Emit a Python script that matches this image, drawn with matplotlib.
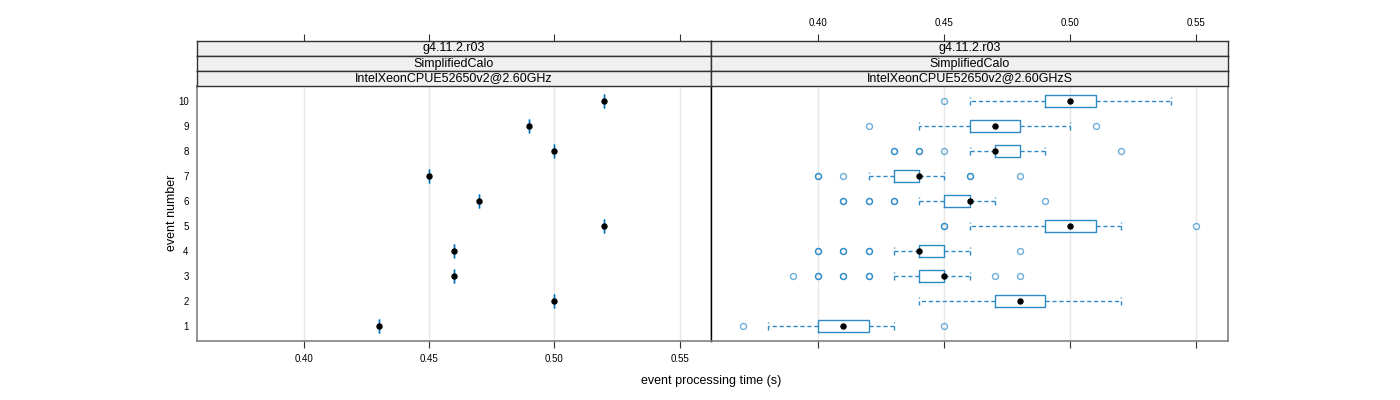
import matplotlib
matplotlib.use("Agg")
import matplotlib.pyplot as plt

plt.rcParams['font.family'] = ['Liberation Sans', 'DejaVu Sans']

# data
events = [1, 2, 3, 4, 5, 6, 7, 8, 9, 10]
x_ticks = [0.40, 0.45, 0.50, 0.55]
x_range = (0.3575, 0.5625)

strip_rows = ["g4.11.2.r03", "SimplifiedCalo"]
left_machine = "IntelXeonCPUE52650v2@2.60GHz"
right_machine = "IntelXeonCPUE52650v2@2.60GHzS"

# left panel: single measurement per event
left_time = [0.43, 0.50, 0.46, 0.46, 0.52, 0.47, 0.45, 0.50, 0.49, 0.52]
left_err = [0.0, 0.0, 0.0, 0.0, 0.0, 0.0, 0.0, 0.0, 0.0, 0.0]

# right panel: box statistics per event
right_med = [0.41, 0.48, 0.45, 0.44, 0.50, 0.46, 0.44, 0.47, 0.47, 0.50]
right_q1 = [0.40, 0.47, 0.44, 0.44, 0.49, 0.45, 0.43, 0.47, 0.46, 0.49]
right_q3 = [0.42, 0.49, 0.45, 0.45, 0.51, 0.46, 0.44, 0.48, 0.48, 0.51]
right_lo = [0.38, 0.44, 0.43, 0.43, 0.46, 0.44, 0.42, 0.46, 0.44, 0.46]
right_hi = [0.43, 0.52, 0.46, 0.46, 0.52, 0.47, 0.45, 0.49, 0.50, 0.54]
right_out = [
    [0.37, 0.45],
    [],
    [0.39, 0.40, 0.40, 0.41, 0.41, 0.42, 0.42, 0.47, 0.48],
    [0.40, 0.40, 0.41, 0.41, 0.42, 0.42, 0.48],
    [0.45, 0.45, 0.55],
    [0.41, 0.41, 0.42, 0.42, 0.43, 0.43, 0.49],
    [0.40, 0.40, 0.41, 0.46, 0.46, 0.48],
    [0.43, 0.43, 0.44, 0.44, 0.45, 0.52],
    [0.42, 0.51],
    [0.45],
]

BLUE = '#2f8ac4'
GRID = '#e8e8e8'
FRAME = '#808080'

W, H = 1400, 400
fig = plt.figure(figsize=(W / 100, H / 100), dpi=100)


def box(x0, y0, x1, y1):
    # pixel box -> figure fraction
    return [x0 / W, 1 - y1 / H, (x1 - x0) / W, (y1 - y0) / H]


panel_top, panel_bot = 86, 341
ax_l = fig.add_axes(box(197, panel_top, 711, panel_bot))
ax_r = fig.add_axes(box(711, panel_top, 1228, panel_bot))

for ax in (ax_l, ax_r):
    ax.set_xlim(*x_range)
    ax.set_ylim(0.4, 10.6)
    ax.set_xticks(x_ticks)
    for t in x_ticks:
        ax.axvline(t, color=GRID, lw=1, zorder=0)
    ax.tick_params(axis='x', direction='out', length=5, width=0.8,
                   labelsize=7, pad=4, color='#333333')
    ax.tick_params(axis='y', length=0, labelsize=7, pad=6)
    for s in ax.spines.values():
        s.set_color(FRAME)
        s.set_linewidth(1.2)

ax_l.set_yticks(events)
ax_l.set_yticklabels([str(e) for e in events])
ax_l.spines['right'].set_color('black')
ax_l.spines['right'].set_linewidth(1)
ax_r.spines['left'].set_color('black')
ax_r.spines['left'].set_linewidth(1)
ax_r.set_yticks([])
ax_r.tick_params(axis='x', labelbottom=False)

# left panel points
ax_l.errorbar(left_time, events, xerr=left_err, fmt='none', ecolor='#0072bd',
              elinewidth=1, capsize=5, capthick=1, zorder=2)
ax_l.scatter(left_time, events, s=13, color='black', zorder=3)

# right panel boxes
stats = []
for i in range(len(events)):
    stats.append(dict(med=right_med[i], q1=right_q1[i], q3=right_q3[i],
                      whislo=right_lo[i], whishi=right_hi[i],
                      fliers=right_out[i]))
ax_r.bxp(stats, positions=events, vert=False, widths=0.5, capwidths=0.35,
         showfliers=True, manage_ticks=False,
         boxprops=dict(color=BLUE, lw=1),
         whiskerprops=dict(color=BLUE, lw=1, linestyle=(0, (3, 2))),
         capprops=dict(color=BLUE, lw=1, linestyle=(0, (3, 2))),
         medianprops=dict(lw=0),
         flierprops=dict(marker='o', markerfacecolor='none',
                         markeredgecolor='#0a78c0', markersize=4.3,
                         markeredgewidth=1, alpha=0.6))
ax_r.scatter(right_med, events, s=13, color='black', zorder=3)

# strips
strip_h = 15
for px0, px1, machine, show_labels in ((197, 711, left_machine, False),
                                        (711, 1228, right_machine, True)):
    labels = strip_rows + [machine]
    for k, lab in enumerate(labels):
        y0 = 41 + k * strip_h
        sax = fig.add_axes(box(px0, y0, px1, y0 + strip_h))
        sax.set_facecolor('#f0f0f0')
        sax.set_xlim(*x_range)
        sax.set_ylim(0, 1)
        sax.set_yticks([])
        sax.text(0.5, 0.5, lab, transform=sax.transAxes, ha='center',
                 va='center', fontsize=9)
        for s in sax.spines.values():
            s.set_color('#333333')
            s.set_linewidth(1)
        if k == 0:
            sax.set_xticks(x_ticks)
            sax.xaxis.tick_top()
            sax.tick_params(axis='x', direction='out', length=5, width=0.8,
                            labelsize=7, pad=4, color='#333333',
                            labeltop=show_labels)
        else:
            sax.set_xticks([])

fig.text(711 / W, 1 - 381 / H, 'event processing time (s)', ha='center',
         va='center', fontsize=9)
fig.text(172 / W, 1 - 213 / H, 'event number', ha='center', va='center',
         rotation=90, fontsize=9)

fig.savefig('out.png', dpi=100)
